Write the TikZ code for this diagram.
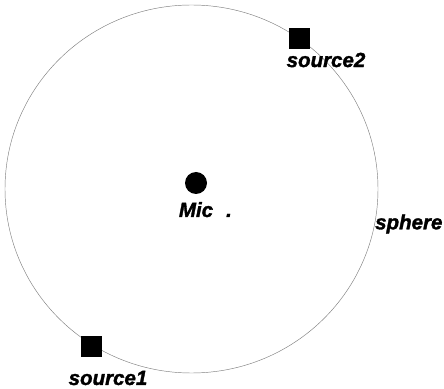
\documentclass[tikz,border=0pt]{standalone}
\usepackage{fontspec}
\setmainfont{Liberation Sans}[BoldItalicFeatures={FakeBold=1.6}]
\usetikzlibrary{shapes.geometric}
\tikzset{
  lbl/.style={font=\bfseries\itshape\fontsize{20.5}{22}\selectfont,text=black,inner sep=0pt},
  src/.style={draw=none,fill=black,minimum size=21pt,inner sep=0pt},
  mic/.style={circle,fill=black,minimum size=22pt,inner sep=0pt},
  shell/.style={ellipse,draw=black!50,line width=0.45pt,minimum width=373pt,minimum height=368pt,inner sep=0pt}
}
\begin{document}
\begin{tikzpicture}[x=1pt,y=1pt]
\path[use as bounding box,fill=white] (0,0) rectangle (444,388);
% sphere and microphone
\node[shell] (sphere) at (191.5,199) {};
\node[mic] (mic) at (196,205) {};
\node[lbl,anchor=base] (miclbl) at (196,171) {Mic};
\node[lbl,anchor=base] (micdot) at (229,171) {.};
\node[lbl,anchor=west] (spherelbl) at (375,164) {sphere};
% sources on the shell
\node[src] (s2) at (299.5,349) {};
\node[lbl] (s2lbl) at (326,328) {source2};
\node[src] (s1) at (91.5,41.5) {};
\node[lbl] (s1lbl) at (108,10) {source1};
\end{tikzpicture}
\end{document}
